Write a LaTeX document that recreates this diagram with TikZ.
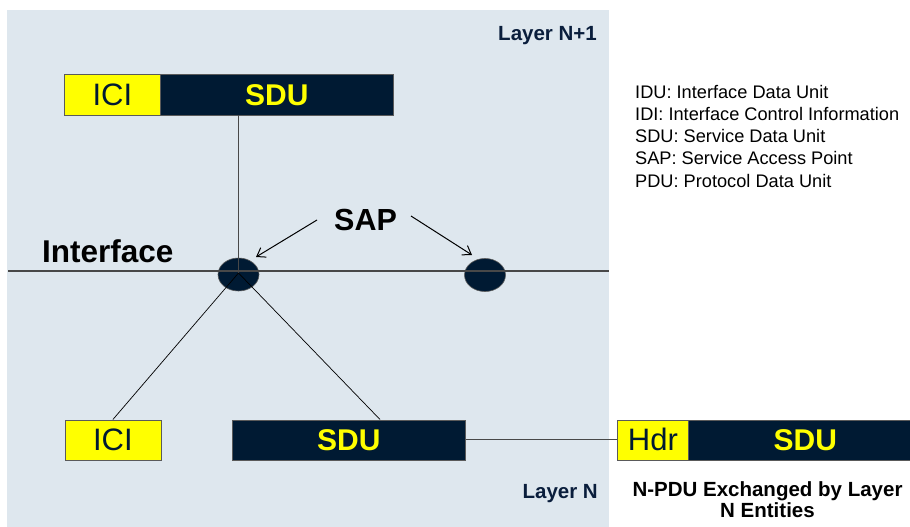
\documentclass[tikz,border=0pt]{standalone}
\usepackage{fontspec}
\setmainfont{Liberation Sans}
\usetikzlibrary{arrows.meta,shapes.geometric}
\definecolor{panel}{HTML}{DEE7EE}
\definecolor{navy}{HTML}{001A33}
\definecolor{ylw}{HTML}{FFFF00}
\definecolor{edge}{HTML}{5A5A5A}
\definecolor{lbl}{HTML}{0A1E3C}
\begin{document}
\begin{tikzpicture}[x=1pt,y=-1pt,
  box/.style={draw=edge, line width=0.8pt, inner sep=0pt, anchor=north west, minimum height=40pt},
  ylbox/.style={box, fill=ylw, text=navy, font=\fontsize{31}{36}\selectfont},
  nvbox/.style={box, fill=navy, text=ylw, font=\bfseries\fontsize{30}{36}\selectfont},
  sapnode/.style={ellipse, draw=edge, line width=0.6pt, fill=navy, minimum width=41pt, minimum height=33pt, inner sep=0pt},
  gline/.style={draw=edge!80!black, line width=1.1pt},
  thin/.style={draw=black, line width=0.7pt},
  arr/.style={draw=black, line width=1pt, -{Straight Barb[length=8pt,width=11pt]}},
  layerlbl/.style={text=lbl, font=\bfseries\fontsize{20.5}{24}\selectfont, inner sep=0pt},
  big/.style={font=\bfseries\fontsize{30.5}{36}\selectfont, inner sep=0pt},
  legend/.style={anchor=base west, inner sep=0pt, font=\fontsize{18.2}{22}\selectfont},
  npdu/.style={anchor=base, inner sep=0pt, font=\bfseries\fontsize{20.5}{22}\selectfont}
]
\useasboundingbox (0,0) rectangle (910,527);
\fill[panel] (7,10) rectangle (609,527);

% top boxes
\node[ylbox, minimum width=96pt] (ici1) at (64,74.5) {ICI};
\node[nvbox, minimum width=233pt] (sdu1) at (160,74.5) {SDU};

% bottom boxes
\node[ylbox, minimum width=96pt] (ici2) at (64.5,419.5) {ICI};
\node[nvbox, minimum width=233pt] (sdu2) at (232,419.5) {SDU};
\node[ylbox, minimum width=71pt] (hdr) at (617,419.5) {Hdr};
\node[nvbox, minimum width=234pt] (sdu3) at (688,419.5) {SDU};

% SAPs
\node[sapnode] (sap1) at (238.5,274.5) {};
\node[sapnode] (sap2) at (485,275) {};

% interface line and connectors
\coordinate (ifl) at (8,271);
\coordinate (ifr) at (609,271);
\coordinate (hub) at (238.5,273);
\coordinate (sdu2top) at (380,419.5);
\draw[gline] (ifl) -- (ifr);
\draw[gline] (sap1.center |- sdu1.south) -- (hub);
\draw[thin] (hub) -- (ici2.north);
\draw[thin] (hub) -- (sdu2top);
\draw[gline] (sdu2.east) -- (hdr.west);

% labels
\node[layerlbl, anchor=base east] (ln1) at (597,41) {Layer N+1};
\node[layerlbl, anchor=base east] (ln) at (598,498) {Layer N};
\node[big, anchor=base west, font=\bfseries\fontsize{31.5}{36}\selectfont] (iface) at (42,262) {Interface};
\node[big, anchor=base west] (sap) at (334,230) {SAP};

% SAP arrows
\coordinate (a1s) at (317,220);
\coordinate (a1e) at (256,257);
\coordinate (a2s) at (411,216);
\coordinate (a2e) at (472,255);
\draw[arr] (a1s) -- (a1e);
\draw[arr] (a2s) -- (a2e);

% legend
\node[legend] (l1) at (635,98) {IDU: Interface Data Unit};
\node[legend] (l2) at (635,120) {IDI: Interface Control Information};
\node[legend] (l3) at (635,142) {SDU: Service Data Unit};
\node[legend] (l4) at (635,164) {SAP: Service Access Point};
\node[legend] (l5) at (635,187) {PDU: Protocol Data Unit};

% caption
\node[npdu] (c1) at (767.5,496) {N-PDU Exchanged by Layer};
\node[npdu] (c2) at (767.5,517) {N Entities};
\end{tikzpicture}
\end{document}
